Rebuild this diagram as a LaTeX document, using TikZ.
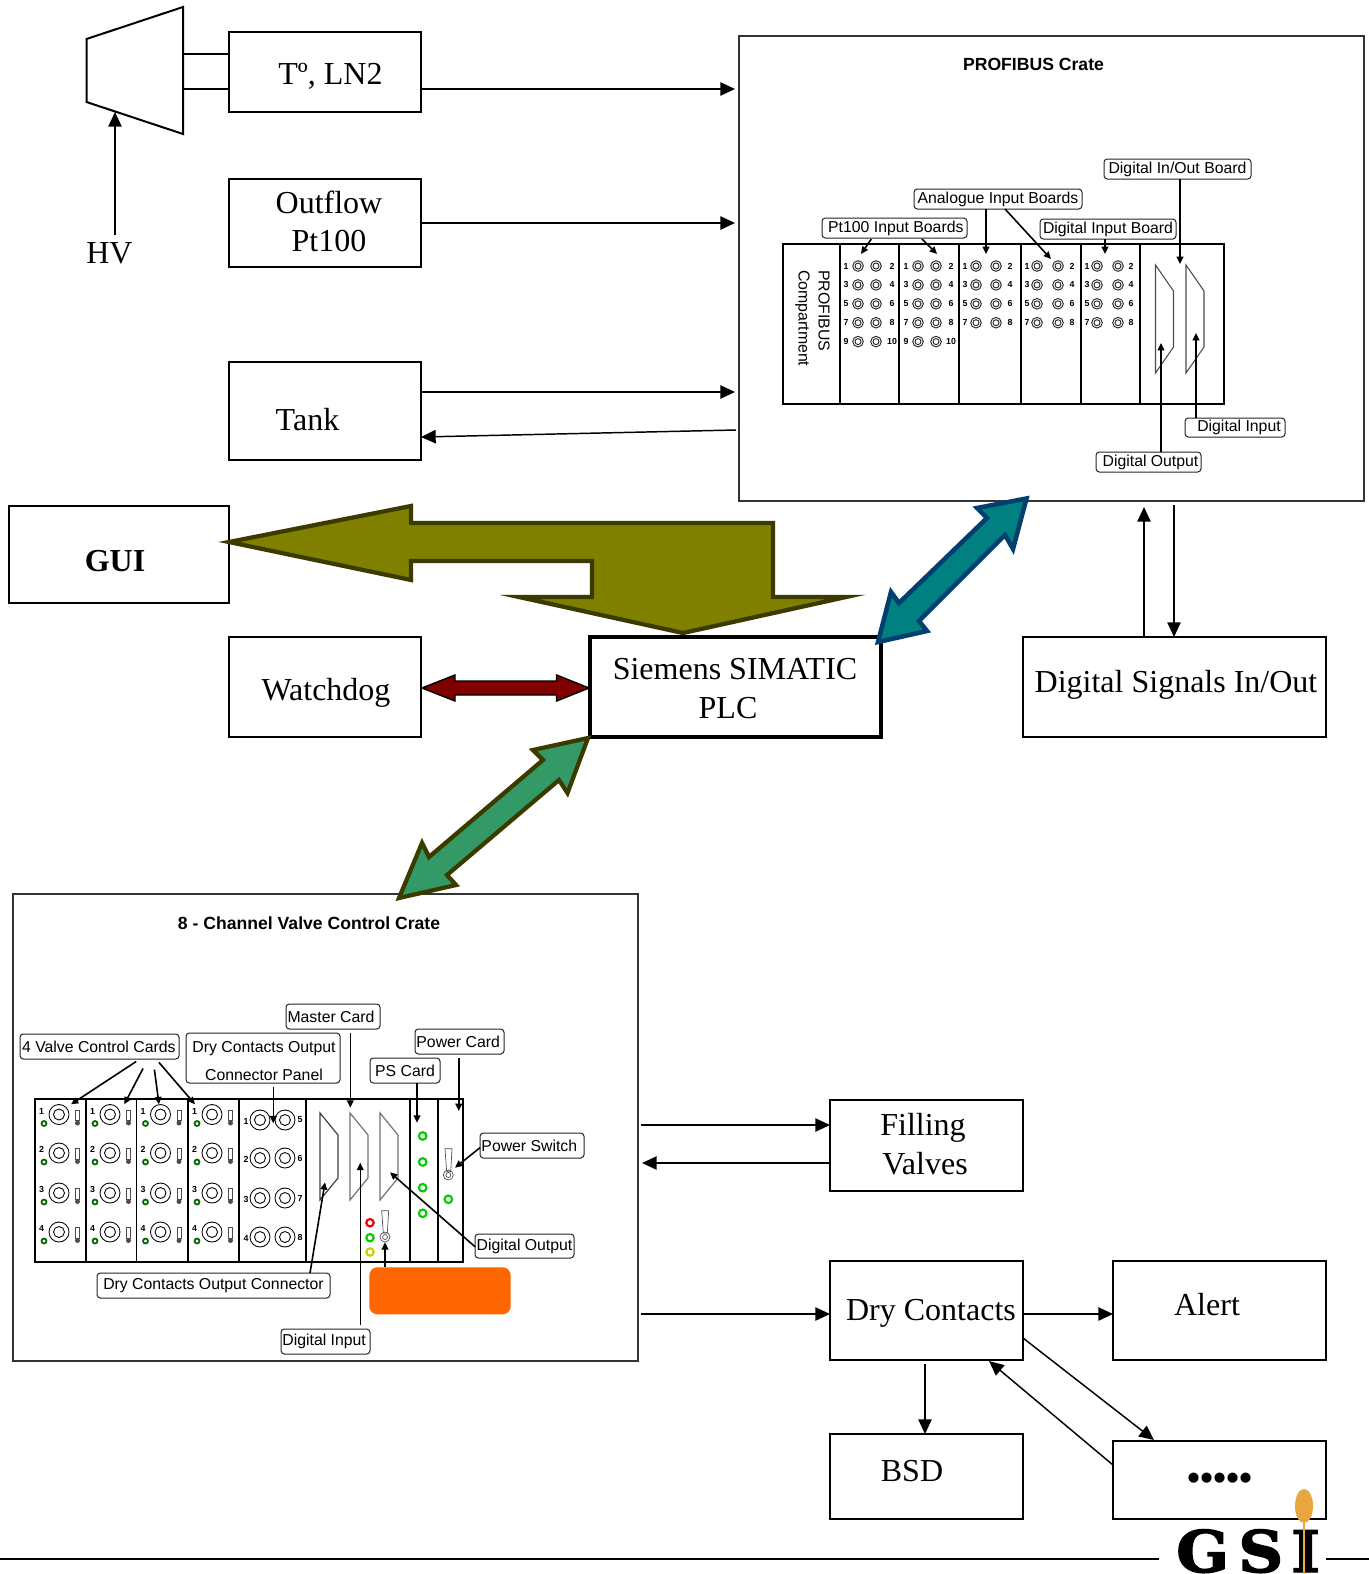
\documentclass[tikz,border=0pt]{standalone}
\usepackage{fontspec}
\setmainfont{Liberation Serif}
\setsansfont{Liberation Sans}
\newfontfamily\gsifont{DejaVu Serif}[BoldFeatures={FakeBold=2.5,FakeStretch=1.08}]
\usetikzlibrary{arrows.meta,shapes.geometric}
\newcommand{\bx}[6]{% name x1 y1 x2 y2 style
  \pgfmathsetmacro{\bw}{(#4-#2)*0.75}\pgfmathsetmacro{\bh}{(#5-#3)*0.75}
  \node[#6,minimum width=\bw pt,minimum height=\bh pt] (#1) at ({(#2+#4)/2},{(#3+#5)/2}) {};}
\newcommand{\lb}[6]{% name x1 y1 x2 y2 text
  \pgfmathsetmacro{\bw}{(#4-#2)*0.75}\pgfmathsetmacro{\bh}{(#5-#3)*0.75}
  \node[lbl,minimum width=\bw pt,minimum height=\bh pt] (#1) at ({(#2+#4)/2},{(#3+#5)/2}) {\raisebox{-0.6pt}{#6}};}
\newcommand{\pf}[4]{% panel connector column: xnumL xc1 xc2 xnumR, rows from \nrows
  \foreach \r [evaluate=\r as \yy using {266+(\r-1)*18.9},evaluate=\r as \nl using {int(2*\r-1)},evaluate=\r as \nr using {int(2*\r)}] in \nrows {
    \node[numf] (pl#1-\r) at (#1,\yy) {\nl};
    \node[numf] (pr#1-\r) at (#4,\yy) {\nr};
    \draw[thin1] (#2,\yy) circle[radius=5.3] (#2,\yy) circle[radius=3];
    \draw[thin1] (#3,\yy) circle[radius=5.3] (#3,\yy) circle[radius=3];
  }}
\newcommand{\trap}[3]{% x y style
  \draw[#3] (#1,#2) -- ++(18,26) -- ++(0,56) -- ++(-18,26) -- cycle;}
\tikzset{
  box/.style={draw=black,line width=1.5pt,inner sep=0pt,outer sep=0pt},
  thick2/.style={draw=black,line width=2.4pt,inner sep=0pt,outer sep=0pt},
  crate/.style={draw=black!80,line width=1.1pt,fill=white,inner sep=0pt,outer sep=0pt},
  panel/.style={draw=black,line width=1.1pt,inner sep=0pt,outer sep=0pt},
  lbl/.style={draw=black!85,line width=.75pt,rounded corners=2.5pt,fill=white,inner sep=0pt,outer sep=0pt,font=\sffamily\fontsize{11.85}{13}\selectfont},
  big/.style={anchor=base,inner sep=0pt,font=\fontsize{24}{26}\selectfont},
  numf/.style={inner sep=0pt,font=\sffamily\bfseries\fontsize{6.6}{8}\selectfont},
  title/.style={inner sep=0pt,anchor=base,font=\sffamily\bfseries\fontsize{13.2}{15}\selectfont},
  bar/.style={line width=1.1pt,-{Triangle[length=11pt,width=10pt]}},
  sa/.style={line width=1.2pt,-{Triangle[length=5.5pt,width=5pt]}},
  thin1/.style={draw=black!85,line width=.7pt},
  ring/.style={line width=1.6pt,fill=white},
}
\definecolor{oliveb}{HTML}{3B3B00}
\definecolor{tealb}{HTML}{003F6F}
\definecolor{orng}{HTML}{FF6600}
\definecolor{gsio}{HTML}{E8A63F}
\definecolor{olivef}{HTML}{808000}
\definecolor{tealf}{HTML}{008080}
\definecolor{greenf}{HTML}{339966}
\definecolor{redf}{HTML}{800000}
\definecolor{dotg}{HTML}{006600}
\definecolor{ringg}{HTML}{00CC00}
\definecolor{ringr}{HTML}{EE0000}
\definecolor{ringy}{HTML}{CCCC00}
\begin{document}
\begin{tikzpicture}[x=0.75pt,y=-0.75pt]
\useasboundingbox (0,0) rectangle (1369,1574);

% top-left
\draw[line width=1.5pt] (86.5,39) -- (183,7) -- (183,134) -- (86.5,102) -- cycle;
\bx{tl}{229}{32}{421}{112}{box}
\bx{of}{229}{179}{421}{267}{box}
\bx{tk}{229}{362}{421}{460}{box}
\draw[line width=1.5pt] (183,54) -- (tl.west |- 0,54) (183,89) -- (tl.west |- 0,89);
\coordinate (hvtop) at (115,112);
\node[big] (hv) at (109.5,263) {HV};
\draw[bar] (hv.north -| hvtop) ++(0,-7) -- (hvtop);
\node[big] (tlt) at (330.5,84) {Tº, LN2};
\node[big] (oft) at (329,213) {Outflow};
\node[big] (oft2) at (329,251) {Pt100};
\node[big] (tkt) at (307.5,430) {Tank};

% Profibus crate
\bx{pc}{739}{36}{1364}{501}{crate}
\node[title] (pct) at (1033.5,70) {PROFIBUS Crate};
\bx{pp}{783}{244}{1224}{404}{panel}
\foreach \x in {840,899,959,1021,1081,1140}
  \draw[line width=1.1pt] (\x,244) -- (\x,404);
\node[rotate=-90,anchor=north west,align=left,inner sep=0pt,font=\sffamily\fontsize{11.9}{15}\selectfont] (pcomp) at (830,270) {PROFIBUS\\Compartment};
\def\nrows{1,2,3,4,5}
\pf{846}{858}{876}{892}
\pf{906}{918}{936}{951}
\def\nrows{1,2,3,4}
\pf{965}{976}{996}{1010}
\pf{1027}{1037}{1058}{1072}
\pf{1087}{1097}{1118}{1131}
\trap{1155.5}{265}{line width=.8pt,draw=black!70}
\trap{1186}{265}{line width=.8pt,draw=black!70}
\lb{lio}{1104}{159}{1251}{179}{Digital In/Out Board}
\lb{lai}{914}{189}{1082}{209}{Analogue Input Boards}
\lb{lpt}{822}{218}{967}{238}{\hspace*{2pt}Pt100 Input Boards}
\lb{ldb}{1040}{219}{1176}{239}{Digital Input Board}
\lb{ldi}{1185}{418}{1285}{437}{\hspace*{6pt}Digital Input}
\lb{ldo}{1096}{452}{1201}{472}{\hspace*{3pt}Digital Output}
\coordinate (a1) at (861,254);\coordinate (a2) at (937,254);\coordinate (a3) at (986,254);
\coordinate (a4) at (1051,259);\coordinate (a5) at (1105,254);\coordinate (a6) at (1180,264);
\coordinate (a7) at (1196,333);\coordinate (a8) at (1161,343);
\draw[sa,shorten <=1pt] (lpt.south -| 872,0) -- (a1);
\draw[sa,shorten <=1pt] (lpt.south -| 921,0) -- (a2);
\draw[sa] (lai.south -| a3) -- (a3);
\draw[sa] (lai.south -| 1005,0) -- (a4);
\draw[sa] (ldb.south -| a5) -- (a5);
\draw[sa] (lio.south -| a6) -- (a6);
\draw[sa] (ldi.north -| a7) -- (a7);
\draw[sa] (ldo.north -| a8) -- (a8);

% middle boxes
\bx{gui}{9}{506}{229}{603}{box}
\node[big,font=\bfseries\fontsize{24}{26}\selectfont] (guit) at (115,571) {GUI};
\bx{wd}{229}{637}{421}{737}{box}
\node[big] (wdt) at (326,700) {Watchdog};
\bx{plc}{590}{637}{881}{737}{thick2}
\node[big] (plct) at (735,679) {Siemens SIMATIC};
\node[big] (plct2) at (728,718) {PLC};
\bx{ds}{1023}{637}{1326}{737}{box}
\node[big] (dst) at (1176,692) {Digital Signals In/Out};

% connectors top
\coordinate (t1) at (735,89);\coordinate (t2) at (735,223);\coordinate (t3) at (735,392);
\coordinate (t4) at (736,430);
\draw[bar] (tl.east |- t1) -- (t1);
\draw[bar] (of.east |- t2) -- (t2);
\draw[bar] (tk.east |- t3) -- (t3);
\coordinate (tki) at (421,437);
\draw[bar] (t4) -- (tk.east |- tki);
\coordinate (u1) at (1144,507);\coordinate (u2) at (1174,505);
\draw[bar] (ds.north -| u1) -- (u1);
\draw[bar] (u2) -- (ds.north -| u2);

% valve crate frame (under the arrow tip)
\bx{vc}{13}{894}{638}{1361}{crate}

% big arrows
\draw[line width=3.2pt,draw=oliveb,fill=olivef]
 (229,542) -- (411,506) -- (411,523) -- (773,523) -- (773,597) -- (846,597) -- (683,633) -- (519,597) -- (592,597) -- (592,561) -- (411,561) -- (411,580) -- cycle;
\draw[line width=3.4pt,draw=tealb,fill=tealf]
 (1026.5,498.5) -- (1013,549) -- (1005,535) -- (919,621) -- (927,631) -- (878,642) -- (891,592) -- (899,603) -- (987,518) -- (977,508) -- cycle;
\draw[line width=3.2pt,draw=oliveb,fill=greenf]
 (588,738) -- (567.5,793) -- (559,780) -- (447,875) -- (456,885) -- (399,898) -- (422,843) -- (429,857) -- (543,760) -- (533,750) -- cycle;
\draw[line width=1.1pt,draw=black,fill=redf]
 (422,688) -- (455,675) -- (455,681) -- (556.5,681) -- (556.5,675) -- (589,688) -- (556.5,701) -- (556.5,695) -- (455,695) -- (455,701) -- cycle;

% valve crate contents
\node[title] (vct) at (309,929) {8 - Channel Valve Control Crate};
\bx{vp}{35}{1099}{463}{1262}{panel}
\foreach \x in {86,136.5,188,239,306,410,438}
  \draw[line width=1.1pt] (\x,1099) -- (\x,1262);
\foreach \c in {35,86,136.5,188} {
  \foreach \r [count=\i,evaluate=\c as \cc using {\c+24},evaluate=\c as \cd using {\c+9},evaluate=\c as \cs using {\c+42.5},evaluate=\c as \cn using {\c+6.5}] in {1114.5,1153,1193,1232} {
    \node[numf] (vn\c-\i) at (\cn,\r-3.5) {\i};
    \draw[line width=.65pt] (\cc,\r) circle[radius=10] (\cc,\r) circle[radius=5.5];
    \draw[line width=1.3pt,draw=dotg,fill=white] (\cd,\r+9) circle[radius=2.5];
    \draw[line width=.5pt,draw=black!70] (\cs-2,\r-4.5) rectangle (\cs+2,\r+6);
    \fill[black!70] (\cs,\r+8.5) circle[radius=2.5];
  }
}
\foreach \r [count=\i,evaluate=\i as \j using {int(\i+4)}] in {1120,1158,1198,1237} {
  \node[numf] (vl\i) at (246,\r+1) {\i};
  \node[numf] (vr\j) at (300,\r) {\j};
  \draw[line width=.65pt] (260,\r) circle[radius=10] (260,\r) circle[radius=5.5];
  \draw[line width=.65pt] (285,\r) circle[radius=10] (285,\r) circle[radius=5.5];
}
\draw[line width=.9pt,draw=black!75] (320,1113) -- (338,1135) -- (338,1178) -- (320,1200) -- cycle;
\draw[line width=.9pt,draw=black!55] (350,1113) -- (368,1135) -- (368,1178) -- (350,1200) -- cycle;
\draw[line width=.9pt,draw=black!55] (380,1113) -- (398,1135) -- (398,1178) -- (380,1200) -- cycle;
\draw[ring,draw=ringr] (370,1222.7) circle[radius=3.7];
\draw[ring,draw=ringg] (370,1237.7) circle[radius=3.7];
\draw[ring,draw=ringy] (370,1252) circle[radius=3.7];
\draw[line width=.5pt,draw=black!70] (381.7,1210.7) -- (388.7,1210.7) -- (387.3,1233) -- (383.3,1233) -- cycle;
\draw[line width=.5pt,draw=black!70] (385,1237) circle[radius=5] (385,1237) circle[radius=2.5];
\foreach \y in {1136,1162,1187.7,1213.3}
  \draw[ring,draw=ringg] (422.7,\y) circle[radius=3.8];
\draw[ring,draw=ringg] (448.3,1199.3) circle[radius=3.8];
\draw[line width=.5pt,draw=black!70] (445,1148.7) -- (452,1148.7) -- (450.7,1171.7) -- (446.7,1171.7) -- cycle;
\draw[line width=.5pt,draw=black!70] (448.3,1175) circle[radius=5] (448.3,1175) circle[radius=2.5];
\node[fill=orng,rounded corners=6pt,inner sep=0pt,outer sep=0pt,minimum width=106pt,minimum height=35.25pt] (org) at (440,1290.8) {};
\lb{l4v}{20}{1034}{179}{1059}{\hspace*{-1pt}4 Valve Control Cards}
\bx{ldc}{186}{1033}{340}{1083}{lbl}
\node[inner sep=0pt,anchor=base,font=\sffamily\fontsize{11.85}{13}\selectfont] (ldc1) at (264,1052) {Dry Contacts Output};
\node[inner sep=0pt,anchor=base,font=\sffamily\fontsize{11.85}{13}\selectfont] (ldc2) at (264,1080) {Connector Panel};
\lb{lmc}{286}{1004}{380}{1029}{\hspace*{-3pt}Master Card}
\lb{lpw}{415}{1029}{504}{1054}{\hspace*{-2pt}Power Card}
\lb{lps}{370}{1058}{440}{1083}{PS Card}
\lb{lsw}{480}{1133}{584}{1158}{\hspace*{-4pt}Power Switch}
\lb{ldv}{475}{1234}{574}{1258}{Digital Output}
\lb{ldk}{97}{1273}{330}{1298}{Dry Contacts Output Connector}
\lb{ldn}{281}{1329}{370}{1354}{\hspace*{-2pt}Digital Input}
\coordinate (b1) at (71,1104.3);\coordinate (b2) at (124.3,1104.3);\coordinate (b3) at (159,1104.3);\coordinate (b4) at (195,1104.3);
\coordinate (b5) at (273.3,1123.3);\coordinate (b6) at (350.3,1107.7);\coordinate (b7) at (458.7,1111);\coordinate (b8) at (417,1122.7);
\coordinate (b9) at (455,1167.7);\coordinate (b10) at (390,1172.3);\coordinate (b11) at (360.3,1162.7);\coordinate (b12) at (325,1182.3);\coordinate (b13) at (385,1242.3);
\draw[sa,shorten <=3.4pt] (l4v.south -| 140,0) -- (b1);
\draw[sa,shorten <=8pt] (l4v.south -| 148,0) -- (b2);
\draw[sa,shorten <=8pt] (l4v.south -| 153,0) -- (b3);
\draw[sa,shorten <=3.4pt] (l4v.south -| 156,0) -- (b4);
\draw[sa,shorten <=3pt] (ldc.south -| b5) -- (b5);
\draw[sa,shorten <=3pt] (lmc.south -| b6) -- (b6);
\draw[sa,shorten <=3pt] (lpw.south -| b7) -- (b7);
\draw[sa] (lps.south -| b8) -- (b8);
\draw[sa] (lsw.west |- 0,1147.7) -- (b9);
\draw[sa] (ldv.west |- 0,1246.7) -- (b10);
\draw[sa,shorten <=3pt] (ldn.north -| b11) -- (b11);
\draw[sa] (ldk.north -| 310,0) -- (b12);
\draw[sa] (org.north -| b13) -- (b13);

% lower right
\bx{fv}{830}{1100}{1023}{1191}{box}
\node[big] (fvt) at (923,1135) {Filling};
\node[big] (fvt2) at (925,1174) {Valves};
\bx{dc}{830}{1261}{1023}{1360}{box}
\node[big] (dct) at (931,1320) {Dry Contacts};
\bx{al}{1113}{1261}{1326}{1360}{box}
\node[big] (alt) at (1207,1315) {Alert};
\bx{bs}{830}{1434}{1023}{1519}{box}
\node[big] (bst) at (912,1481) {BSD};
\bx{dt}{1113}{1441}{1326}{1519}{box}
\node[big,font=\bfseries\fontsize{28}{30}\selectfont] (dtt) at (1220,1490) {•••••};
\coordinate (c1) at (641,1125);\coordinate (c2) at (642,1163);\coordinate (c3) at (641,1314);
\coordinate (c4) at (925,1364);\coordinate (c5) at (1154,1440);\coordinate (c6) at (989,1361);
\draw[bar] (c1) -- (fv.west |- c1);
\draw[bar] (fv.west |- c2) -- (c2);
\draw[bar] (c3) -- (dc.west |- c3);
\draw[bar] (dc.east |- c3) -- (al.west |- c3);
\draw[bar] (c4) -- (bs.north -| c4);
\draw[bar] (dc.east |- 0,1338) -- (c5);
\draw[bar] (dt.west |- 0,1465) -- (c6);

% logo and footer rule
\node[fill=gsio,ellipse,inner sep=0pt,minimum width=13.5pt,minimum height=25.5pt] (gsie) at (1304,1506) {};
\node[anchor=base west,inner sep=0pt,font=\gsifont\bfseries\fontsize{43}{46}\selectfont] (gsi) at (1176,1572) {G\kern7pt S\kern6pt I};
\coordinate (f1) at (0,1559);\coordinate (f2) at (1159,1559);\coordinate (f3) at (1326,1559);\coordinate (f4) at (1369,1559);
\draw[line width=1pt] (f1) -- (f2) (f3) -- (f4);
\draw[line width=1.5pt,gsio] (gsie.south) -- (gsie.south |- 0,1574);
\end{tikzpicture}
\end{document}
